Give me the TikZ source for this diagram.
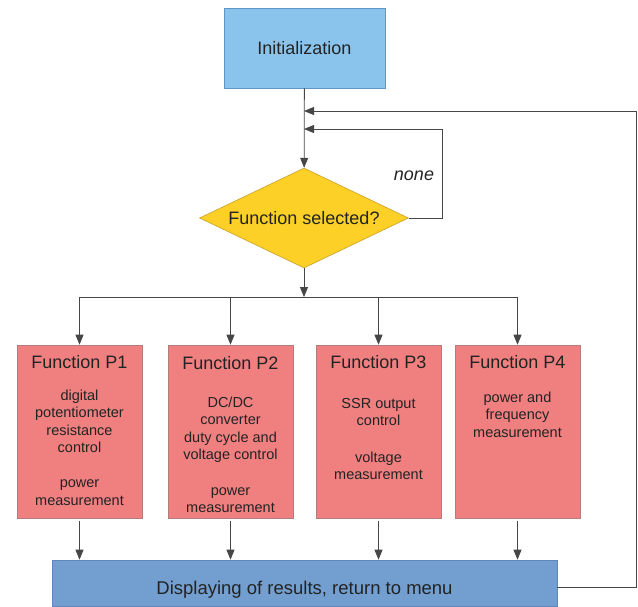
\documentclass[tikz,border=0pt]{standalone}
\usepackage{fontspec}
\setmainfont{Liberation Sans}
\usetikzlibrary{arrows.meta,shapes.geometric,positioning}

\definecolor{initblue}{RGB}{138,196,236}
\definecolor{initline}{RGB}{95,150,200}
\definecolor{selectyellow}{RGB}{252,208,38}
\definecolor{selectline}{RGB}{200,160,40}
\definecolor{funcred}{RGB}{240,128,128}
\definecolor{funcline}{RGB}{175,125,125}
\definecolor{resultblue}{RGB}{114,159,207}
\definecolor{resultline}{RGB}{95,135,185}
\definecolor{flowgray}{RGB}{70,70,70}
\definecolor{textdark}{RGB}{35,35,35}

\tikzset{
  box/.style={draw, line width=0.6pt, inner sep=0pt, text=textdark},
  bigtext/.style={font=\fontsize{18}{21}\selectfont},
  smalltext/.style={font=\fontsize{14.5}{17.5}\selectfont},
  flow/.style={draw=flowgray, line width=0.8pt, -{Triangle[length=10pt,width=8pt]}},
  wire/.style={draw=flowgray, line width=0.8pt}
}

\begin{document}
\begin{tikzpicture}[x=1pt,y=-1pt,
  initbox/.style={box, bigtext, fill=initblue, draw=initline,
    minimum width=161pt, minimum height=80pt},
  selectbox/.style={diamond, aspect=2.09, box, bigtext, fill=selectyellow, draw=selectline,
    minimum width=209pt, minimum height=100pt},
  funcbox/.style={box, fill=funcred, draw=funcline,
    minimum width=125pt, minimum height=173pt},
  functitle/.style={bigtext, inner sep=0pt, text=textdark},
  funcbody/.style={smalltext, align=center, anchor=north, inner sep=0pt, text=textdark},
  resultbox/.style={box, font=\fontsize{18.5}{21}\selectfont, fill=resultblue, draw=resultline,
    minimum width=505pt, minimum height=46pt, text height=23pt, text depth=0pt},
  nonelabel/.style={bigtext, font=\fontsize{18}{21}\selectfont\itshape, text=textdark}
]
\useasboundingbox (0,0) rectangle (638,606);

% main column
\node[initbox] (init) at (304.5,48) {Initialization};
\node[selectbox] (select) at (304,218) {Function selected?};
\node[nonelabel] (none) at (414,176) {none};

% the four functions
\node[funcbox] (p1) at (79.5,431.5) {};
\node[funcbox] (p2) at (230.5,431.5) {};
\node[funcbox] (p3) at (378.5,431.5) {};
\node[funcbox] (p4) at (517.5,431.5) {};

\node[functitle] (p1title) at ([yshift=-17pt]p1.north) {Function P1};
\node[functitle] (p2title) at ([yshift=-18pt]p2.north) {Function P2};
\node[functitle] (p3title) at ([yshift=-17pt]p3.north) {Function P3};
\node[functitle] (p4title) at ([yshift=-17pt]p4.north) {Function P4};

\node[funcbody] (p1body) at ([yshift=-45pt]p1.north)
  {digital\\potentiometer\\resistance\\control\\[17.5pt]power\\measurement};
\node[funcbody] (p2body) at ([yshift=-52pt]p2.north)
  {DC/DC\\converter\\duty cycle and\\voltage control\\[18pt]power\\measurement};
\node[funcbody] (p3body) at ([yshift=-53pt]p3.north)
  {SSR output\\control\\[19pt]voltage\\measurement};
\node[funcbody] (p4body) at ([yshift=-47pt]p4.north)
  {power and\\frequency\\measurement};

\node[resultbox] (result) at (304.5,583) {Displaying of results, return to menu};

% connectors
\coordinate (menuin) at (304,111);
\coordinate (loopin) at (304,129);
\coordinate (bus) at (304,297);

\draw[flow] (init) -- (select);
\draw[flow] (select.east) -- ++(34,0) |- (loopin);
\draw[flow] ([yshift=-4pt]result.east) -- ++(79,0) |- (menuin);
\draw[flow] (select.south) -- (bus);
\draw[wire] (p1.north |- bus) -- (p4.north |- bus);
\foreach \f in {p1,p2,p3,p4} {
  \draw[flow] (\f.north |- bus) -- (\f.north);
  \draw[flow] ([yshift=-3pt]\f.south) -- (\f.south |- result.north);
}
\end{tikzpicture}
\end{document}
